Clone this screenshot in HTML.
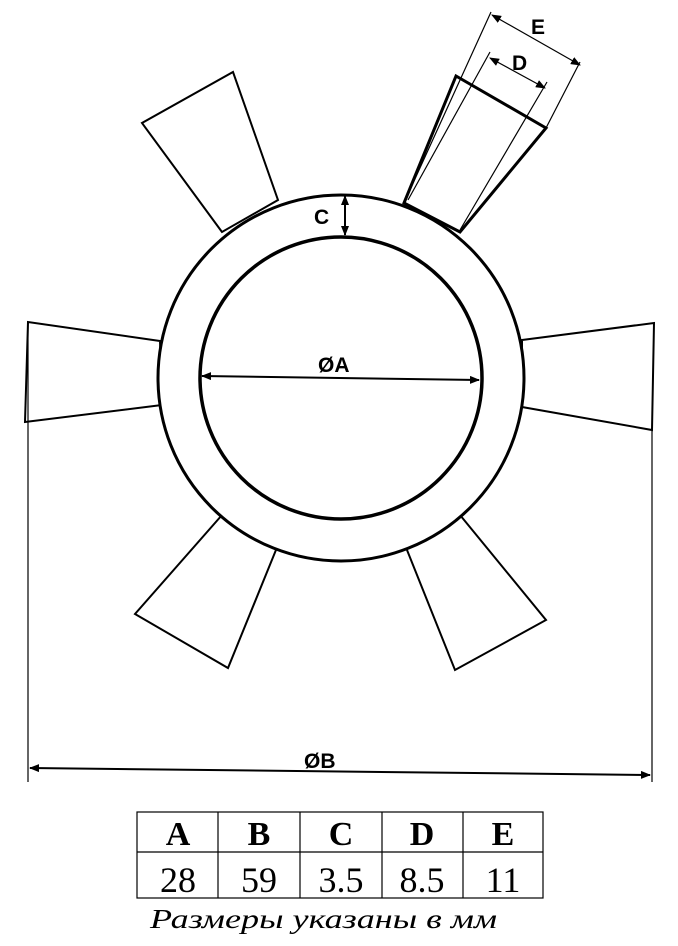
<!DOCTYPE html>
<html><head><style>body{margin:0;background:#fff}svg{display:block}</style></head><body>
<svg width="678" height="946" viewBox="0 0 678 946" xmlns="http://www.w3.org/2000/svg">
<defs><marker id="a" markerWidth="10" markerHeight="8" refX="9" refY="4" orient="auto" markerUnits="userSpaceOnUse"><path d="M0,0 L10,4 L0,8z" fill="#000"/></marker>
<marker id="b" markerWidth="10" markerHeight="8" refX="1" refY="4" orient="auto" markerUnits="userSpaceOnUse"><path d="M10,0 L0,4 L10,8z" fill="#000"/></marker></defs>
<g fill="#fff" stroke="#000" stroke-width="2">
<polygon points="222,232 142,123 233,72 278,200"/>
<polygon points="404,203 456,76 546,128 460,232" stroke-width="3"/>
<polygon points="522,340 654,323 652,430 522,407"/>
<polygon points="160,341 28,322 25,422 162,405"/>
<polygon points="222,515 135,614 228,668 278,545"/>
<polygon points="405,545 455,670 546,620 460,515"/>
<circle cx="341" cy="378" r="183" stroke-width="3"/>
<circle cx="341" cy="378" r="141" stroke-width="3.5"/>
</g>
<g stroke="#000" stroke-width="1.2" fill="none">
<line x1="404" y1="203" x2="491" y2="12"/>
<line x1="546" y1="128" x2="580" y2="62"/>
<line x1="408" y1="200" x2="490" y2="52"/>
<line x1="460" y1="230" x2="547" y2="82"/>
<line x1="492" y1="15" x2="580" y2="65" marker-start="url(#b)" marker-end="url(#a)"/>
<line x1="490" y1="58" x2="545" y2="88" marker-start="url(#b)" marker-end="url(#a)"/>
<line x1="28" y1="322" x2="28" y2="782"/>
<line x1="652" y1="430" x2="652" y2="782"/>
</g>
<g stroke="#000" stroke-width="2">
<line x1="30" y1="768" x2="650" y2="775" marker-start="url(#b)" marker-end="url(#a)"/>
<line x1="202" y1="376" x2="479" y2="380" marker-start="url(#b)" marker-end="url(#a)"/>
<line x1="345" y1="196" x2="345" y2="235" marker-start="url(#b)" marker-end="url(#a)"/>
</g>
<g font-family="Liberation Sans, sans-serif" font-size="21" font-weight="bold">
<text x="318" y="372">ØA</text><text x="304" y="768">ØB</text>
<text x="314" y="224">C</text><text x="531" y="34">E</text><text x="512" y="70">D</text>
</g>
<g stroke="#000" stroke-width="1.2" fill="none">
<rect x="137" y="812" width="406" height="86"/>
<line x1="137" y1="852" x2="543" y2="852"/>
<line x1="218" y1="812" x2="218" y2="898"/><line x1="300" y1="812" x2="300" y2="898"/>
<line x1="382" y1="812" x2="382" y2="898"/><line x1="463" y1="812" x2="463" y2="898"/>
</g>
<g font-family="Liberation Serif, serif" font-size="36" text-anchor="middle">
<g font-weight="bold" font-size="34"><text x="178" y="845">A</text><text x="259" y="845">B</text><text x="341" y="845">C</text><text x="422" y="845">D</text><text x="503" y="845">E</text></g>
<text x="178" y="892">28</text><text x="259" y="892">59</text><text x="341" y="892">3.5</text><text x="422" y="892">8.5</text><text x="503" y="892">11</text>
</g>
<text x="150" y="928" font-family="Liberation Serif, serif" font-size="27" font-style="italic" textLength="347" lengthAdjust="spacingAndGlyphs">Размеры указаны в мм</text>
</svg>
</body></html>
